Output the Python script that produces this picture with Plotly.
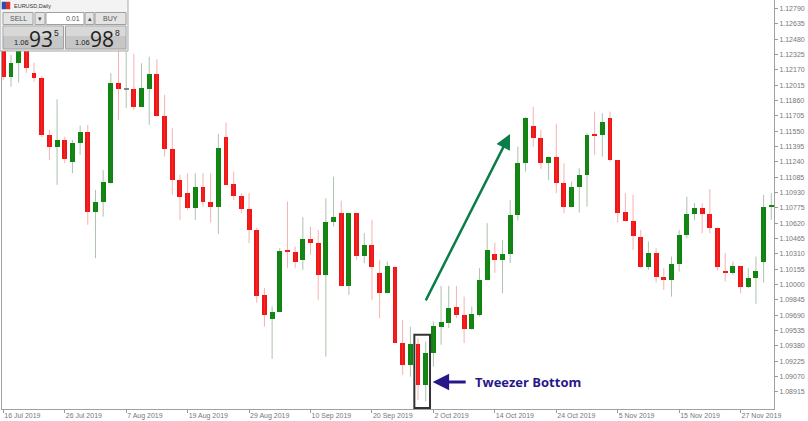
import pandas as pd
import plotly.graph_objects as go

# ---------------- data (EURUSD, Daily) ----------------
dates = [d.strftime("%Y-%m-%d") for d in pd.bdate_range("2019-07-16", "2019-12-03")]

open_ = [1.12603, 1.12095, 1.12237, 1.12674, 1.12142, 1.12091, 1.11513, 1.11394, 1.11462, 1.11243,
         1.11435, 1.11543, 1.10738, 1.10839, 1.11025, 1.12035, 1.11970, 1.11977, 1.11798, 1.11974,
         1.12129, 1.11704, 1.11374, 1.11058, 1.10924, 1.10772, 1.10990, 1.10839, 1.10788, 1.11495,
         1.11015, 1.10896, 1.10762, 1.10553, 1.09897, 1.09651, 1.09728, 1.10348, 1.10334, 1.10250,
         1.10465, 1.10425, 1.10099, 1.10637, 1.10722, 1.09987, 1.10722, 1.10290, 1.10402, 1.10116,
         1.09920, 1.10182, 1.09409, 1.09190, 1.09402, 1.08988, 1.09308, 1.09576, 1.09617, 1.09778,
         1.09695, 1.09553, 1.09695, 1.10048, 1.10311, 1.10245, 1.10311, 1.10705, 1.11233, 1.11603,
         1.11485, 1.11233, 1.11293, 1.11031, 1.10782, 1.10990, 1.11109, 1.11516, 1.11510, 1.11681,
         1.11260, 1.10732, 1.10647, 1.10485, 1.10182, 1.10318, 1.10081, 1.10048, 1.10210, 1.10503,
         1.10712, 1.10772, 1.10715, 1.10576, 1.10142, 1.10116, 1.10189, 1.09980, 1.10065, 1.10233,
         1.10782]
high = [1.12634, 1.12321, 1.12775, 1.12735, 1.12243, 1.12108, 1.11563, 1.11873, 1.11495, 1.11462,
        1.11606, 1.11614, 1.10957, 1.11159, 1.12136, 1.12422, 1.12422, 1.12331, 1.12237, 1.12303,
        1.12277, 1.11917, 1.11580, 1.11109, 1.11126, 1.11126, 1.11126, 1.11126, 1.11523, 1.11637,
        1.11142, 1.10924, 1.10924, 1.10573, 1.09967, 1.09778, 1.10371, 1.10839, 1.10384, 1.10681,
        1.10586, 1.10553, 1.10873, 1.11091, 1.10849, 1.10725, 1.10725, 1.10520, 1.10654, 1.10250,
        1.10233, 1.10189, 1.09644, 1.09576, 1.09459, 1.09425, 1.09627, 1.09987, 1.09987, 1.09987,
        1.09879, 1.09778, 1.10166, 1.10621, 1.10422, 1.10452, 1.10856, 1.11394, 1.11694, 1.11798,
        1.11563, 1.11295, 1.11624, 1.11227, 1.11041, 1.11176, 1.11530, 1.11748, 1.11732, 1.11748,
        1.11260, 1.10924, 1.10907, 1.10553, 1.10435, 1.10368, 1.10166, 1.10283, 1.10553, 1.10889,
        1.10823, 1.10823, 1.10964, 1.10578, 1.10318, 1.10233, 1.10189, 1.10166, 1.10283, 1.10907,
        1.10924]
low = [1.12068, 1.12000, 1.12041, 1.12139, 1.12051, 1.11492, 1.11260, 1.11008, 1.11227, 1.11126,
       1.11311, 1.10604, 1.10267, 1.10687, 1.11018, 1.11664, 1.11785, 1.11765, 1.11795, 1.11614,
       1.11694, 1.11293, 1.10907, 1.10654, 1.10755, 1.10654, 1.10788, 1.10627, 1.10513, 1.11003,
       1.10856, 1.10722, 1.10419, 1.09816, 1.09576, 1.09250, 1.09725, 1.10166, 1.10166, 1.10149,
       1.10301, 1.09846, 1.09273, 1.10586, 1.09982, 1.09897, 1.10250, 1.10217, 1.09846, 1.09661,
       1.09914, 1.09407, 1.09089, 1.09071, 1.08836, 1.08819, 1.09172, 1.09392, 1.09560, 1.09661,
       1.09409, 1.09543, 1.09677, 1.10043, 1.10119, 1.09914, 1.10217, 1.10647, 1.11142, 1.11394,
       1.11169, 1.11058, 1.10924, 1.10722, 1.10780, 1.10728, 1.10788, 1.11311, 1.11293, 1.11243,
       1.10627, 1.10637, 1.10351, 1.10166, 1.10149, 1.10021, 1.09947, 1.09879, 1.10132, 1.10469,
       1.10654, 1.10520, 1.10520, 1.10142, 1.10031, 1.10099, 1.09914, 1.09964, 1.09806, 1.10021,
       1.10654]
close = [1.12101, 1.12243, 1.12694, 1.12186, 1.12091, 1.11513, 1.11388, 1.11462, 1.11267, 1.11435,
         1.11543, 1.10738, 1.10839, 1.11041, 1.12035, 1.11974, 1.11970, 1.11798, 1.11990, 1.12129,
         1.11704, 1.11374, 1.11058, 1.10889, 1.10772, 1.10990, 1.10839, 1.10788, 1.11384, 1.11008,
         1.10896, 1.10762, 1.10553, 1.09886, 1.09695, 1.09728, 1.10344, 1.10331, 1.10233, 1.10465,
         1.10425, 1.10099, 1.10637, 1.10687, 1.09987, 1.10722, 1.10290, 1.10402, 1.10182, 1.09914,
         1.10189, 1.09409, 1.09190, 1.09402, 1.08988, 1.09308, 1.09583, 1.09627, 1.09768, 1.09695,
         1.09553, 1.09705, 1.10048, 1.10351, 1.10245, 1.10311, 1.10705, 1.11233, 1.11687, 1.11485,
         1.11233, 1.11293, 1.11031, 1.10782, 1.10990, 1.11109, 1.11516, 1.11505, 1.11644, 1.11260,
         1.10728, 1.10647, 1.10492, 1.10182, 1.10318, 1.10081, 1.10048, 1.10210, 1.10503, 1.10712,
         1.10772, 1.10712, 1.10576, 1.10176, 1.10116, 1.10189, 1.09980, 1.10065, 1.10142, 1.10782,
         1.10803]

x_tick_dates = ["2019-07-16", "2019-07-26", "2019-08-07", "2019-08-19", "2019-08-29", "2019-09-10",
                "2019-09-20", "2019-10-02", "2019-10-14", "2019-10-24", "2019-11-05", "2019-11-15",
                "2019-11-27"]
x_tick_labels = ["16 Jul 2019", "26 Jul 2019", "7 Aug 2019", "19 Aug 2019", "29 Aug 2019",
                 "10 Sep 2019", "20 Sep 2019", "2 Oct 2019", "14 Oct 2019", "24 Oct 2019",
                 "5 Nov 2019", "15 Nov 2019", "27 Nov 2019"]
y_tick_vals = [1.12790, 1.12635, 1.12480, 1.12325, 1.12170, 1.12015, 1.11860, 1.11705, 1.11550,
               1.11395, 1.11240, 1.11085, 1.10930, 1.10775, 1.10620, 1.10465, 1.10310, 1.10155,
               1.10000, 1.09845, 1.09690, 1.09535, 1.09380, 1.09225, 1.09070, 1.08915]
y_tick_labels = [f"{v:.5f}" for v in y_tick_vals]

# ---------------- styling ----------------
RED, GREEN, DOJI = "#f01414", "#0d860d", "#8a8a8a"
WICK_RED, WICK_GREEN = "rgba(235,80,80,0.45)", "rgba(70,120,70,0.45)"

body_base, body_h, body_col = [], [], []
for o, c in zip(open_, close):
    body_base.append(min(o, c))
    body_h.append(max(abs(c - o), 0.00012))
    body_col.append(GREEN if c > o else (RED if c < o else DOJI))

wx_r, wy_r, wx_g, wy_g = [], [], [], []
for d, o, h, l, c in zip(dates, open_, high, low, close):
    if c >= o:
        wx_g += [d, d, None]; wy_g += [l, h, None]
    else:
        wx_r += [d, d, None]; wy_r += [l, h, None]

fig = go.Figure()
fig.add_trace(go.Bar(x=dates, y=body_h, base=body_base, width=0.64,
                     marker=dict(color=body_col, line=dict(width=0)), showlegend=False))
fig.add_trace(go.Scatter(x=wx_r, y=wy_r, mode="lines", line=dict(color=WICK_RED, width=1),
                         hoverinfo="skip", showlegend=False))
fig.add_trace(go.Scatter(x=wx_g, y=wy_g, mode="lines", line=dict(color=WICK_GREEN, width=1),
                         hoverinfo="skip", showlegend=False))

# plot-area geometry in pixels (for the widget overlay)
L, T, W, H = 2, 0, 772, 409
def px(v): return (v - L) / W
def py(v): return 1 - (v - T) / H

shapes = []
annos = []
def rect(x0, y0, x1, y1, fill, line="#a0a0a0", lw=1):
    shapes.append(dict(type="rect", xref="paper", yref="paper", x0=px(x0), x1=px(x1),
                       y0=py(y1), y1=py(y0), fillcolor=fill, line=dict(color=line, width=lw),
                       layer="above"))
def txt(x, y, s, size, color="#333", anchor="left", family="Liberation Sans", bold=False):
    annos.append(dict(x=px(x), y=py(y), xref="paper", yref="paper", text=("<b>%s</b>" % s) if bold else s,
                      showarrow=False, xanchor=anchor, yanchor="middle",
                      font=dict(size=size, color=color, family=family)))

# widget (one-click trading panel)
rect(0, -1, 128, 51, "#f3f3f3", "#a8a8a8")
rect(2, 2, 6, 9, "#2a4db0", "#2a4db0", 0.5)
rect(6, 2, 10, 9, "#d93030", "#d93030", 0.5)
txt(12, 5.5, "EURUSD,Daily", 5.5, "#333")
rect(3, 12.5, 33, 24.5, "#e4e4e4")
txt(18, 18.5, "SELL", 7, "#555", "center")
rect(35, 12.5, 45, 24.5, "#e4e4e4")
txt(40, 18.5, "▾", 7, "#444", "center", "DejaVu Sans")
rect(46, 12.5, 84, 24.5, "#ffffff")
txt(82, 18.5, "0.01", 7, "#555", "right")
rect(85, 12.5, 94, 24.5, "#e4e4e4")
txt(89.5, 18.5, "▴", 7, "#444", "center", "DejaVu Sans")
rect(95, 12.5, 126, 24.5, "#e4e4e4")
txt(110.5, 18.5, "BUY", 7, "#555", "center")
for x0, x1 in [(3, 63.5), (65.5, 126)]:
    rect(x0, 26, x1, 49, "#c6c6c6", "#a0a0a0")
    rect(x0 + 0.5, 26.5, x1 - 0.5, 36, "#d8d8d8", "rgba(0,0,0,0)", 0)
txt(12, 42.5, "1.06", 7.5, "#222")
txt(27, 39.5, "93", 21, "#222", family="Open Sans")
txt(52, 32.5, "5", 8.5, "#222")
txt(73, 42.5, "1.06", 7.5, "#222")
txt(88, 39.5, "98", 21, "#222", family="Open Sans")
txt(113, 32.5, "8", 8.5, "#222")

# tweezer-bottom box
shapes.append(dict(type="rect", xref="x", yref="y", x0=53.52, x1=55.56, y0=1.08752, y1=1.09493,
                   line=dict(color="#333333", width=2), fillcolor="rgba(0,0,0,0)", layer="above"))
NAVY = "#27188a"
annos.append(dict(x=55.9, y=1.09015, ax=60.4, ay=1.09015, xref="x", yref="y", axref="x", ayref="y",
                  text="", showarrow=True, arrowhead=2, arrowsize=1.1, arrowwidth=3, arrowcolor=NAVY))
annos.append(dict(x=61.1, y=1.09015, xref="x", yref="y", text="<b>Tweezer Bottom</b>", showarrow=False,
                  xanchor="left", yanchor="middle", font=dict(size=13, color=NAVY, family="Open Sans")))
annos.append(dict(x=65.98, y=1.11523, ax=54.91, ay=1.09826, xref="x", yref="y", axref="x", ayref="y",
                  text="", showarrow=True, arrowhead=2, arrowsize=1.2, arrowwidth=2.5,
                  arrowcolor="#0b7d4a"))

fig.update_layout(
    width=808, height=421, margin=dict(l=L, r=808 - L - W, t=T, b=421 - T - H),
    paper_bgcolor="white", plot_bgcolor="white", bargap=0, showlegend=False,
    shapes=shapes, annotations=annos, hovermode=False,
    xaxis=dict(type="category", categoryorder="array", categoryarray=dates,
               range=[-0.17, 100.35], tickvals=x_tick_dates, ticktext=x_tick_labels, tickangle=0,
               ticks="outside", ticklen=3, tickcolor="#999", ticklabelposition="outside right",
               tickfont=dict(size=7, color="#777", family="Liberation Sans"),
               showgrid=False, showline=True, linecolor="#a0a0a0", linewidth=1, mirror=True,
               zeroline=False, fixedrange=True),
    yaxis=dict(side="right", range=[1.08743, 1.12876], tickvals=y_tick_vals, ticktext=y_tick_labels,
               ticks="outside", ticklen=3, tickcolor="#999",
               tickfont=dict(size=7, color="#777", family="Liberation Sans"),
               showgrid=False, showline=True, linecolor="#a0a0a0", linewidth=1, mirror=True,
               zeroline=False, fixedrange=True),
)

fig.write_html("out.html", config={"displayModeBar": False},
               post_script="document.body.style.margin='0';document.body.style.overflow='hidden';")
